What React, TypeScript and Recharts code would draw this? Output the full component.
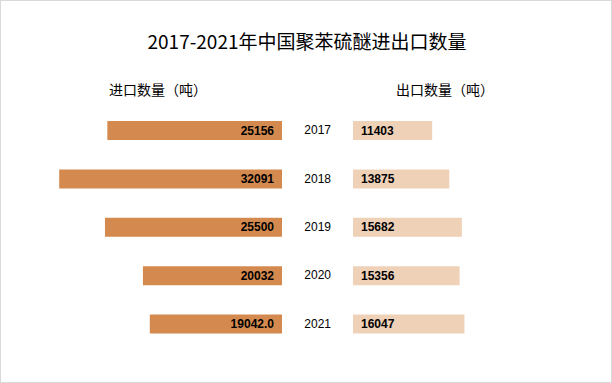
import React from 'react';
import { BarChart, Bar, XAxis, YAxis, LabelList } from 'recharts';

const years = ['2017', '2018', '2019', '2020', '2021'];
const importVals = [25156, 32091, 25500, 20032, 19042.0];
const importLabels = ['25156', '32091', '25500', '20032', '19042.0'];
const exportVals = [11403, 13875, 15682, 15356, 16047];
const exportLabels = ['11403', '13875', '15682', '15356', '16047'];

const data = years.map((year, i) => ({
  year,
  imp: importVals[i],
  exp: exportVals[i],
}));

const labelFont = '"Liberation Sans", Arial, sans-serif';
const cjk = '"Noto Sans CJK SC", "Noto Sans", sans-serif';

const ImportLabel = (props: any) => {
  const { x, y, width, height, index } = props;
  const right = Math.max(x, x + width);
  return (
    <text x={right - 8} y={y + height / 2} dy={4} textAnchor="end" fontSize={12} fontWeight="bold" fill="#000" fontFamily={labelFont}>
      {importLabels[index]}
    </text>
  );
};

const ExportLabel = (props: any) => {
  const { x, y, height, index } = props;
  return (
    <text x={x + 8} y={y + height / 2} dy={4} textAnchor="start" fontSize={12} fontWeight="bold" fill="#000" fontFamily={labelFont}>
      {exportLabels[index]}
    </text>
  );
};

const YearTick = (props: any) => {
  const { x, y, payload } = props;
  return (
    <text x={x} y={y} dy={4} textAnchor="end" fontSize={12} fill="#000" fontFamily={labelFont}>
      {payload.value}
    </text>
  );
};

export default function App() {
  return (
    <div
      style={{
        position: 'absolute',
        left: 0,
        top: 0,
        width: 612,
        height: 383,
        boxSizing: 'border-box',
        border: '1px solid #d9d9d9',
        background: '#fff',
        overflow: 'hidden',
      }}
    >
      <div style={{ position: 'absolute', left: 0, top: 26, width: 612, textAlign: 'center', fontFamily: cjk, fontSize: 19, color: '#000' }}>
        2017-2021年中国聚苯硫醚进出口数量
      </div>
      <div style={{ position: 'absolute', left: 108, top: 78, fontFamily: cjk, fontSize: 14, color: '#000' }}>
        进口数量（吨）
      </div>
      <div style={{ position: 'absolute', left: 395, top: 78, fontFamily: cjk, fontSize: 14, color: '#000' }}>
        出口数量（吨）
      </div>

      <div style={{ position: 'absolute', left: -1, top: -1 }}>
        <BarChart width={282} height={383} data={data} layout="vertical" margin={{ top: 106, bottom: 35, left: 39, right: 0 }}>
          <XAxis type="number" domain={[0, 35000]} reversed hide />
          <YAxis type="category" dataKey="year" hide />
          <Bar dataKey="imp" fill="#D48A4E" barSize={19} isAnimationActive={false}>
            <LabelList dataKey="imp" content={ImportLabel} />
          </Bar>
        </BarChart>
      </div>

      <div style={{ position: 'absolute', left: 281, top: -1 }}>
        <BarChart width={330} height={383} data={data} layout="vertical" margin={{ top: 106, bottom: 35, left: 0, right: 16 }}>
          <XAxis type="number" domain={[0, 35000]} hide />
          <YAxis
            type="category"
            dataKey="year"
            width={71}
            axisLine={false}
            tickLine={false}
            tickSize={0}
            tickMargin={22}
            tick={YearTick}
          />
          <Bar dataKey="exp" fill="#EFD1B8" barSize={19} isAnimationActive={false}>
            <LabelList dataKey="exp" content={ExportLabel} />
          </Bar>
        </BarChart>
      </div>
    </div>
  );
}
